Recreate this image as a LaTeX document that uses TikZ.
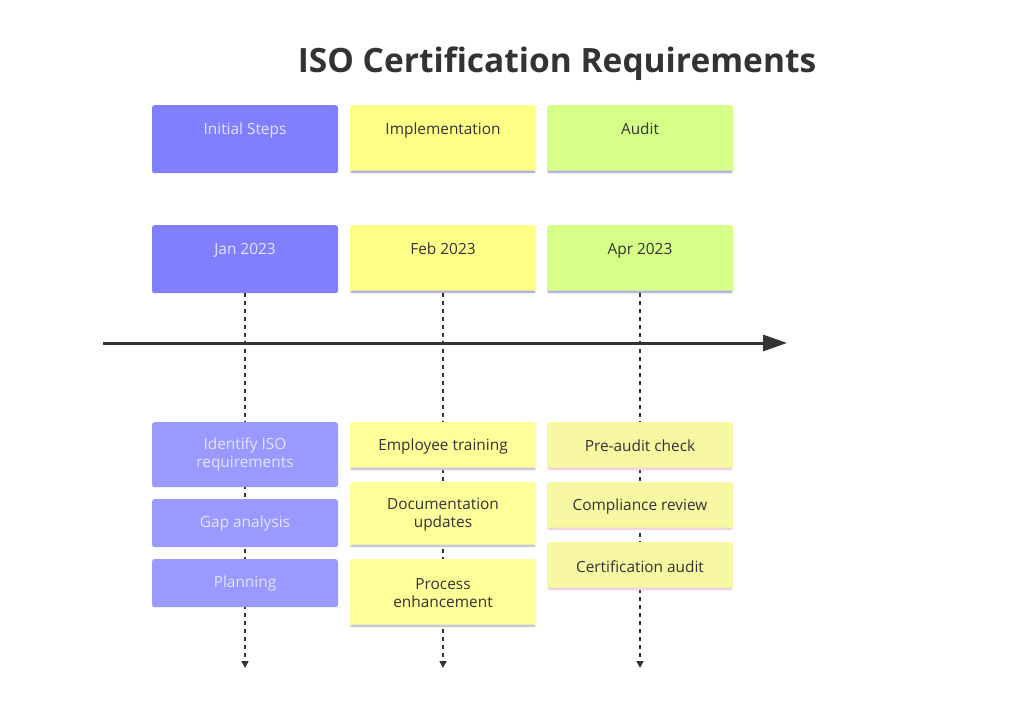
\documentclass[tikz,border=0pt]{standalone}
\usepackage{fontspec}
\setmainfont{Open Sans}
\usetikzlibrary{arrows.meta}

\definecolor{ink}{HTML}{333333}
\definecolor{paleink}{HTML}{E4E4FF}
\definecolor{hdblue}{HTML}{8080FF}
\definecolor{tkblue}{HTML}{9999FF}
\definecolor{hdyel}{HTML}{FFFF88}
\definecolor{tkyel}{HTML}{FFFF99}
\definecolor{tkyelB}{HTML}{F8F8A2}
\definecolor{hdgrn}{HTML}{D6FF88}
\definecolor{lavA}{HTML}{B4B4E4}
\definecolor{lavB}{HTML}{C8C8DC}
\definecolor{pinkrim}{HTML}{F0D4E4}

\tikzset{
  card/.style={rectangle, rounded corners=2.5pt, minimum width=186pt, inner sep=0pt,
    align=center, font=\fontsize{15.4}{18}\selectfont, text=ink},
  topcard/.style={card, anchor=north, text height=29pt, text depth=39pt},
  taskcard/.style={card, anchor=north, minimum height=#1},
  rim/.style={path picture={\fill[#1] ([yshift=2.5pt]path picture bounding box.south west)
    rectangle (path picture bounding box.south east);}},
  vline/.style={draw=ink, line width=1.6pt, dash pattern=on 4pt off 4pt,
    -{Triangle[width=7pt,length=7pt]}},
}

\begin{document}
\begin{tikzpicture}[x=1pt,y=-1pt]
  \useasboundingbox[fill=white] (0,0) rectangle (1024,727);

  \node[font=\fontsize{33.5}{38}\selectfont\bfseries, text=ink] (ttl) at (557,64) {ISO Certification Requirements};

  % phase row
  \node[topcard, fill=hdblue, text=paleink] (hInit) at (245,105) {Initial Steps};
  \node[topcard, fill=hdyel, rim=lavA] (hImpl) at (443,105) {Implementation};
  \node[topcard, fill=hdgrn, rim=lavA] (hAud) at (640,105) {Audit};

  % date row
  \node[topcard, fill=hdblue, text=paleink] (dJan) at (245,225) {Jan 2023};
  \node[topcard, fill=hdyel, rim=lavA] (dFeb) at (443,225) {Feb 2023};
  \node[topcard, fill=hdgrn, rim=lavA] (dApr) at (640,225) {Apr 2023};

  \coordinate (eJan) at (245,668);
  \coordinate (eFeb) at (443,668);
  \coordinate (eApr) at (640,668);
  \foreach \a/\b in {dJan/eJan, dFeb/eFeb, dApr/eApr}
    \draw[vline] (\a) -- (\b);

  \coordinate (tStart) at (103,343);
  \coordinate (tEnd) at (787,343);
  \draw[line width=3pt, ink, -{Triangle[width=16pt,length=24pt]}] (tStart) -- (tEnd);

  % tasks
  \node[taskcard=65pt, fill=tkblue, text=paleink] (tIdent) at (245,422) {Identify ISO\\requirements};
  \node[taskcard=48pt, fill=tkblue, text=paleink] (tGap) at (245,499) {Gap analysis};
  \node[taskcard=48pt, fill=tkblue, text=paleink] (tPlan) at (245,559) {Planning};

  \node[taskcard=48pt, fill=tkyel, rim=lavB] (tTrain) at (443,422) {Employee training};
  \node[taskcard=65pt, fill=tkyel, rim=lavB] (tDocs) at (443,482) {Documentation\\updates};
  \node[taskcard=68pt, fill=tkyel, rim=lavB] (tProc) at (443,559) {Process\\enhancement};

  \node[taskcard=48pt, fill=tkyelB, rim=pinkrim] (tPre) at (640,422) {Pre-audit check};
  \node[taskcard=48pt, fill=tkyelB, rim=pinkrim] (tComp) at (640,482) {Compliance review};
  \node[taskcard=48pt, fill=tkyelB, rim=pinkrim] (tCert) at (640,542) {Certification audit};
\end{tikzpicture}
\end{document}
